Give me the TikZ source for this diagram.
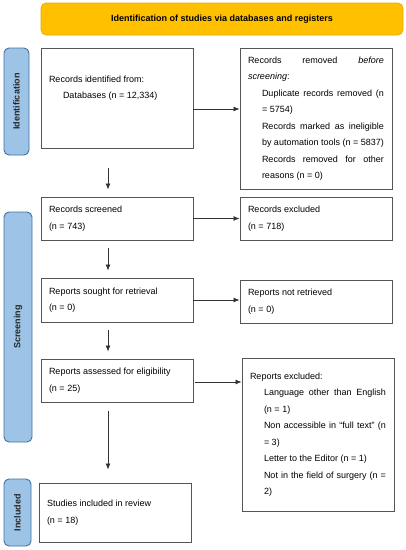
\documentclass[tikz,border=0pt]{standalone}
\usepackage{fontspec}
\setmainfont{Liberation Sans}
\usepackage{xcolor}
\usepackage{tikz}
\usetikzlibrary{arrows.meta}

\definecolor{bannerfill}{HTML}{FFC000}
\definecolor{bannerline}{HTML}{E3AA00}
\definecolor{phasefill}{HTML}{9DC3E6}
\definecolor{phaseline}{HTML}{41719C}
\definecolor{boxline}{HTML}{555555}
\definecolor{arrline}{HTML}{333333}

\newcommand{\spread}[2]{\makebox[#1][s]{#2}}
\newcommand{\ind}{\hspace*{14pt}}

\tikzset{
  recbox/.style={draw=boxline, line width=0.9pt, rectangle, minimum width=152pt,
    text width=136pt, inner xsep=8pt, inner ysep=0pt, align=flush left,
    font=\fontsize{9}{16.5}\selectfont},
  phase/.style={draw=phaseline, fill=phasefill, line width=0.9pt, rounded corners=5pt,
    rotate=90, font=\fontsize{9}{11}\selectfont\bfseries, text=black!85},
  banner/.style={draw=bannerline, fill=bannerfill, line width=0.6pt, rounded corners=5pt,
    font=\fontsize{9}{11}\selectfont\bfseries},
  arr/.style={-{Latex[length=6pt,width=5pt]}, draw=arrline, line width=0.8pt}
}

\begin{document}
\begin{tikzpicture}[x=1pt, y=-1pt]
		\useasboundingbox (0,0) rectangle (406,550);
		
		% banner and phases
		\node[banner, minimum width=362pt, minimum height=32pt] (head) at (222,19)
			{Identification of studies via databases and registers};
		\node[phase, minimum width=107pt, minimum height=25pt] (phid) at (16.5,101.5) {Identification};
		\node[phase, minimum width=230pt, minimum height=28pt] (phscr) at (18,327) {Screening};
		\node[phase, minimum width=67pt, minimum height=27pt] (phinc) at (17.5,512.5) {Included};
		
		% left column
		\node[recbox, minimum height=100pt] (ident) at (117,98)
			{Records identified from:\\ \ind Databases (n = 12,334)\\ \strut};
		\node[recbox, minimum height=43pt] (screened) at (117,218.5)
			{Records screened\\ (n = 743)};
		\node[recbox, minimum height=44pt] (sought) at (117,300)
			{Reports sought for retrieval\\ (n = 0)};
		\node[recbox, minimum height=43pt] (assessed) at (117,380.5)
			{Reports assessed for eligibility\\ (n = 25)};
		\node[recbox, minimum height=59pt] (included) at (115,512.5)
			{Studies included in review\\ (n = 18)};
		
		% right column
		\node[recbox, minimum height=141pt] (removed) at (316,118.5)
			{\spread{136pt}{Records removed \emph{before}}\\
			 \emph{screening}:\\
			 \ind\spread{122pt}{Duplicate records removed (n}\\
			 \ind = 5754)\\
			 \ind\spread{122pt}{Records marked as ineligible}\\
			 \ind by automation tools (n = 5837)\\
			 \ind\spread{122pt}{Records removed for other}\\
			 \ind reasons (n = 0)};
		\node[recbox, minimum height=43pt] (excluded) at (316,218.5)
			{Records excluded\\ (n = 718)};
		\node[recbox, minimum height=43pt] (notretr) at (316,301.5)
			{Reports not retrieved\\ (n = 0)};
		\node[recbox, minimum height=153pt] (repexcl) at (318,434.5)
			{Reports excluded:\\
			 \ind\spread{122pt}{Language other than English}\\
			 \ind (n = 1)\\
			 \ind\spread{122pt}{Non accessible in “full text” (n}\\
			 \ind = 3)\\
			 \ind Letter to the Editor (n = 1)\\
			 \ind\spread{122pt}{Not in the field of surgery (n =}\\
			 \ind 2)};
		
		% arrows down
		\coordinate (col) at (108,0);
		\draw[arr, shorten <=20pt, shorten >=7pt] (ident.south -| col) -- (screened.north -| col);
		\draw[arr, shorten <=8pt, shorten >=7pt] (screened.south -| col) -- (sought.north -| col);
		\draw[arr, shorten <=8pt, shorten >=7pt] (sought.south -| col) -- (assessed.north -| col);
		\draw[arr, shorten <=9pt, shorten >=13pt] (assessed.south -| col) -- (included.north -| col);
		
		% arrows right
		\draw[arr] ([yshift=-11pt]ident.east) -- ([yshift=-11pt]ident.east -| removed.west);
		\draw[arr] (screened.east) -- (screened.east -| excluded.west);
		\draw[arr] (sought.east) -- (sought.east -| notretr.west);
		\draw[arr, shorten <=2pt] ([yshift=-1.5pt]assessed.east) -- ([yshift=-1.5pt]assessed.east -| repexcl.west);
	\end{tikzpicture}
\end{document}
